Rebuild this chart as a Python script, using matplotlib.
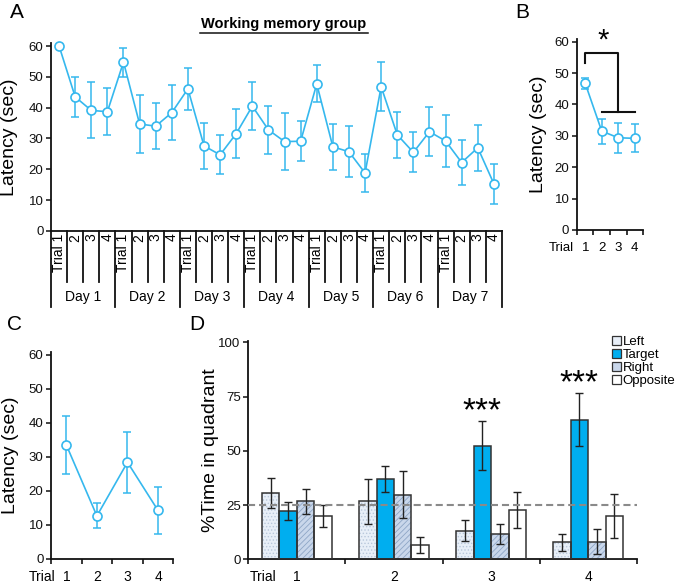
import matplotlib
matplotlib.use('Agg')
import matplotlib.pyplot as plt
import numpy as np
from matplotlib.lines import Line2D
from matplotlib.patches import Patch

plt.rcParams['font.family'] = ['Liberation Sans', 'DejaVu Sans']
plt.rcParams['hatch.linewidth'] = 0.6

colors = {
    'line': '#35b8ee',
    'ink': '#111111',
    'edge': '#333333',
    'left': '#e8eff8',
    'left_hatch': '#b9c8dc',
    'target': '#00aeef',
    'right': '#c9d7eb',
    'right_hatch': '#8ea6c6',
    'opposite': '#ffffff',
    'chance': '#8a8a8a',
}

# Panel A: latency per trial, 7 days x 4 trials
days = ['Day 1', 'Day 2', 'Day 3', 'Day 4', 'Day 5', 'Day 6', 'Day 7']
trial_names = ['Trial 1', '2', '3', '4']
a_mean = [60.0, 43.5, 39.1, 38.7,
          54.8, 34.7, 34.0, 38.4,
          46.1, 27.6, 24.7, 31.6,
          40.5, 32.8, 29.0, 29.1,
          47.7, 27.3, 25.7, 18.8,
          46.8, 31.2, 25.5, 32.2,
          29.2, 22.2, 27.0, 15.3]
a_sem = [0.0, 6.6, 9.1, 7.7,
         4.7, 9.3, 7.4, 8.9,
         6.8, 7.4, 6.3, 7.9,
         7.7, 7.7, 9.3, 6.5,
         6.0, 7.5, 8.3, 6.3,
         7.9, 7.5, 6.5, 7.9,
         8.5, 7.2, 7.4, 6.5]

# Panel B: mean over days per trial
b_trials = ['1', '2', '3', '4']
b_mean = [46.7, 31.5, 29.4, 29.2]
b_sem = [1.9, 4.0, 4.8, 4.5]

# Panel C
c_trials = ['1', '2', '3', '4']
c_mean = [33.5, 12.6, 28.4, 14.2]
c_sem = [8.5, 3.7, 9.0, 6.8]

# Panel D: % time in quadrant
d_trials = ['1', '2', '3', '4']
quadrants = ['Left', 'Target', 'Right', 'Opposite']
d_left = [30.6, 26.7, 13.2, 7.8]
d_left_sem = [6.9, 10.4, 4.8, 3.9]
d_target = [22.4, 37.0, 52.4, 64.4]
d_target_sem = [4.1, 6.1, 11.4, 12.3]
d_right = [26.7, 29.8, 11.5, 8.1]
d_right_sem = [5.9, 10.7, 4.6, 5.7]
d_opposite = [20.1, 6.5, 22.7, 20.0]
d_opposite_sem = [5.1, 3.6, 8.5, 10.0]
d_stars = ['', '', '***', '***']


def style_axes(ax):
    for side in ['top', 'right']:
        ax.spines[side].set_visible(False)
    for side in ['left', 'bottom']:
        ax.spines[side].set_linewidth(1.3)
        ax.spines[side].set_color(colors['ink'])
    ax.tick_params(axis='y', direction='out', length=3.5, width=1.1,
                   labelsize=9.5, pad=2, colors=colors['ink'])


def line_panel(ax, means, sems):
    x = np.arange(len(means)) + 0.5
    ax.errorbar(x, means, yerr=sems, fmt='none', ecolor=colors['line'],
                elinewidth=1.1, capsize=3, capthick=1.1, zorder=2)
    ax.plot(x, means, '-o', color=colors['line'], lw=1.2, ms=6.5,
            mfc='white', mec=colors['line'], mew=1.2, zorder=3, clip_on=False)


fig = plt.figure(figsize=(6.75, 5.84), dpi=100)

# ---------------- A ----------------
axA = fig.add_axes([0.0756, 0.6045, 0.668, 0.322])
style_axes(axA)
line_panel(axA, a_mean, a_sem)
axA.set_xlim(0, len(a_mean))
axA.set_ylim(0, 61)
axA.set_yticks(np.arange(0, 61, 10))
axA.set_xticks([])
axA.set_ylabel('Latency (sec)', fontsize=14)
axA.yaxis.set_label_coords(-0.074, 0.5)

n_tr = len(trial_names)
for k in range(len(a_mean) + 1):
    bottom = -24.7 if k % n_tr == 0 else -16.6
    axA.plot([k, k], [0, bottom], color=colors['ink'], lw=1.3, clip_on=False)
for d, day in enumerate(days):
    for t, name in enumerate(trial_names):
        axA.text(d * n_tr + t + 0.5, -0.9, name, rotation=90, ha='center',
                 va='top', fontsize=10, clip_on=False)
    axA.text(d * n_tr + n_tr / 2, -21.3, day, ha='center', va='center',
             fontsize=10, clip_on=False)

fig.text(284 / 675, 1 - 24 / 584, 'Working memory group', ha='center',
         va='center', fontsize=10.5, fontweight='bold')
fig.add_artist(Line2D([200 / 675, 368 / 675], [1 - 32.5 / 584] * 2,
                      transform=fig.transFigure, color=colors['ink'], lw=1.1))

# ---------------- B ----------------
axB = fig.add_axes([0.8548, 0.6062, 0.0978, 0.3277])
style_axes(axB)
line_panel(axB, b_mean, b_sem)
axB.set_xlim(0, 4)
axB.set_ylim(0, 61)
axB.set_yticks(np.arange(0, 61, 10))
axB.set_xticks(np.arange(0, 5))
axB.set_xticklabels([])
axB.tick_params(axis='x', direction='out', length=3.5, width=1.1)
axB.set_ylabel('Latency (sec)', fontsize=14)
axB.yaxis.set_label_coords(-0.459, 0.5)
for i, lab in enumerate(b_trials):
    axB.text(i + 0.5, -5.6, lab, ha='center', va='center', fontsize=9.5,
             clip_on=False)
axB.text(-0.97, -5.6, 'Trial', ha='center', va='center', fontsize=9.5,
         clip_on=False)
# significance bracket
axB.plot([0.5, 0.5, 2.5, 2.5], [53.1, 56.5, 56.5, 37.5], color=colors['ink'],
         lw=1.5, clip_on=False)
axB.plot([1.5, 3.5], [37.5, 37.5], color=colors['ink'], lw=1.5, clip_on=False)
axB.text(1.58, 57.8, '*', ha='center', va='baseline', fontsize=21,
         clip_on=False)

# ---------------- C ----------------
axC = fig.add_axes([0.0756, 0.0433, 0.1812, 0.3547])
style_axes(axC)
line_panel(axC, c_mean, c_sem)
axC.set_xlim(0, 4)
axC.set_ylim(0, 61)
axC.set_yticks(np.arange(0, 61, 10))
axC.set_xticks(np.arange(0, 5))
axC.set_xticklabels([])
axC.tick_params(axis='x', direction='out', length=3.5, width=1.1)
axC.set_ylabel('Latency (sec)', fontsize=14)
axC.yaxis.set_label_coords(-0.262, 0.5)
for i, lab in enumerate(c_trials):
    axC.text(i + 0.5, -5.3, lab, ha='center', va='center', fontsize=10,
             clip_on=False)
axC.text(0.13, -5.3, 'Trial', ha='right', va='center', fontsize=10,
         clip_on=False)

# ---------------- D ----------------
axD = fig.add_axes([0.3679, 0.0423, 0.5754, 0.3745])
style_axes(axD)
axD.set_xlim(0, 4)
axD.set_ylim(0, 100.8)
axD.set_yticks([0, 25, 50, 75, 100])
axD.set_xticks(np.arange(0, 5))
axD.set_xticklabels([])
axD.tick_params(axis='x', direction='out', length=3.5, width=1.1)
axD.set_ylabel('%Time in quadrant', fontsize=14)
axD.yaxis.set_label_coords(-0.0747, 0.5)

width = 0.18
xg = np.arange(len(d_trials)) + 0.5
series = [
    (d_left, d_left_sem, colors['left'], '.....', colors['left_hatch']),
    (d_target, d_target_sem, colors['target'], None, None),
    (d_right, d_right_sem, colors['right'], '//////', colors['right_hatch']),
    (d_opposite, d_opposite_sem, colors['opposite'], None, None),
]
for j, (vals, sems, fc, hatch, hc) in enumerate(series):
    xs = xg + (j - 1.5) * width
    if hatch:
        axD.bar(xs, vals, width, color=fc, edgecolor=hc, hatch=hatch, lw=0,
                zorder=2)
    else:
        axD.bar(xs, vals, width, color=fc, lw=0, zorder=2)
    axD.bar(xs, vals, width, fill=False, edgecolor=colors['edge'], lw=1.1,
            zorder=3)
    axD.errorbar(xs, vals, yerr=sems, fmt='none', ecolor='#222222',
                 elinewidth=1.0, capsize=3.2, capthick=1.0, zorder=4)

axD.axhline(25, color=colors['chance'], lw=1.5, ls=(0, (3.4, 1.9)), zorder=5)

for i, s in enumerate(d_stars):
    if s:
        top = d_target[i] + d_target_sem[i]
        axD.text(xg[i] - 0.5 * width, top + 0.4, s, ha='center',
                 va='baseline', fontsize=24, clip_on=False)

for i, lab in enumerate(d_trials):
    axD.text(xg[i], -8.2, lab, ha='center', va='center', fontsize=10,
             clip_on=False)
axD.text(0.15, -8.2, 'Trial', ha='center', va='center', fontsize=10,
         clip_on=False)

handles = [
    Patch(facecolor=colors['left'], edgecolor=colors['edge'], lw=0.9),
    Patch(facecolor=colors['target'], edgecolor=colors['edge'], lw=0.9),
    Patch(facecolor=colors['right'], edgecolor=colors['edge'], lw=0.9),
    Patch(facecolor=colors['opposite'], edgecolor=colors['edge'], lw=0.9),
]
fig.legend(handles, quadrants, loc='upper left',
           bbox_to_anchor=(612 / 675, 1 - 336 / 584),
           frameon=False, fontsize=9.5, handlelength=0.65, handleheight=0.65,
           handletextpad=0.15, labelspacing=0.08, borderpad=0,
           borderaxespad=0)

# panel letters
for letter, (px, py) in {'A': (17, 12), 'B': (522, 12),
                         'C': (14, 325), 'D': (197, 325)}.items():
    fig.text(px / 675, 1 - py / 584, letter, ha='center', va='center',
             fontsize=15)

fig.savefig('out.png', dpi=100)
